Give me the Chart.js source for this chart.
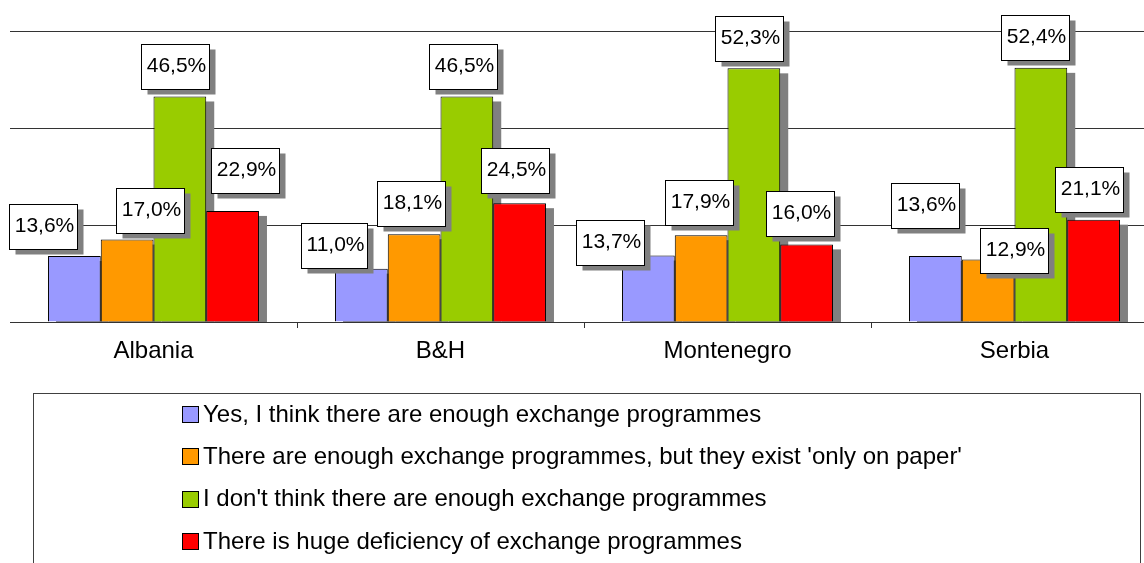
<!DOCTYPE html>
<html><head><meta charset="utf-8">
<script src="https://cdn.jsdelivr.net/npm/chart.js@4"></script>
<style>html,body{margin:0;padding:0;overflow:hidden;background:#fff;width:1144px;height:563px}canvas{display:block}</style>
</head><body>
<canvas id="c" width="1160" height="563"></canvas>
<script>
const categories = ['Albania', 'B&H', 'Montenegro', 'Serbia'];
const seriesNames = [
  'Yes, I think there are enough exchange programmes',
  "There are enough exchange programmes, but they exist 'only on paper'",
  "I don't think there are enough exchange programmes",
  'There is huge deficiency of exchange programmes'
];
const yesEnough = [13.6, 11.0, 13.7, 13.6];
const onlyOnPaper = [17.0, 18.1, 17.9, 12.9];
const notEnough = [46.5, 46.5, 52.3, 52.4];
const hugeDeficiency = [22.9, 24.5, 16.0, 21.1];
const yTicks = [0, 20, 40, 60];

const FONT = '"Liberation Sans", Arial, sans-serif';
const colors = ['#9999FF', '#FF9900', '#99CC00', '#FF0000'];

const barShadow = {
  id: 'barShadow',
  beforeDatasetsDraw(chart, args, opts) {
    const { ctx, chartArea: a } = chart;
    ctx.save();
    ctx.beginPath();
    ctx.rect(a.left, a.top, a.right - a.left, a.bottom - a.top);
    ctx.clip();
    ctx.fillStyle = opts.color;
    chart.data.datasets.forEach((ds, i) => {
      chart.getDatasetMeta(i).data.forEach(bar => {
        const p = bar.getProps(['x', 'y', 'base', 'width'], true);
        ctx.fillRect(p.x - p.width / 2 + opts.dx, p.y + opts.dy, p.width, p.base - p.y);
      });
    });
    ctx.restore();
  }
};

const boxLabels = {
  id: 'boxLabels',
  afterDatasetsDraw(chart, args, opts) {
    const { ctx } = chart;
    ctx.save();
    ctx.font = opts.size + 'px ' + FONT;
    ctx.textAlign = 'center';
    ctx.textBaseline = 'middle';
    chart.data.datasets.forEach((ds, i) => {
      chart.getDatasetMeta(i).data.forEach((bar, j) => {
        const p = bar.getProps(['x', 'y'], true);
        const txt = ds.data[j].toFixed(1).replace('.', ',') + '%';
        const tw = ctx.measureText(txt).width;
        const w = Math.round(tw + opts.padX * 2), h = opts.height;
        const n = opts.nudges[i][j];
        const cx = p.x + n[0], cy = p.y + n[1];
        const x0 = Math.round(cx - w / 2) + 0.5, y0 = Math.round(cy - h / 2) + 0.5;
        ctx.fillStyle = opts.shadow;
        ctx.fillRect(x0 + opts.sdx, y0 + opts.sdy, w, h);
        ctx.fillStyle = '#fff';
        ctx.fillRect(x0, y0, w, h);
        ctx.strokeStyle = '#000';
        ctx.lineWidth = 1;
        ctx.strokeRect(x0, y0, w, h);
        ctx.fillStyle = '#000';
        ctx.fillText(txt, x0 + w / 2 + 1, y0 + h / 2 - 1);
      });
    });
    ctx.restore();
  }
};

const boxLegend = {
  id: 'boxLegend',
  afterDraw(chart, args, opts) {
    const { ctx } = chart;
    ctx.save();
    ctx.strokeStyle = opts.frame;
    ctx.lineWidth = 1;
    ctx.strokeRect(opts.left + 0.5, opts.top + 0.5, opts.right - opts.left, 300);
    ctx.font = opts.size + 'px ' + FONT;
    ctx.textAlign = 'left';
    ctx.textBaseline = 'middle';
    chart.data.datasets.forEach((ds, i) => {
      const cy = opts.firstRow + i * opts.rowGap;
      const s = opts.box;
      ctx.fillStyle = ds.backgroundColor;
      ctx.fillRect(opts.itemX + 0.5, Math.round(cy - s / 2) + 0.5, s, s);
      ctx.strokeStyle = '#000';
      ctx.strokeRect(opts.itemX + 0.5, Math.round(cy - s / 2) + 0.5, s, s);
      ctx.fillStyle = '#000';
      ctx.fillText(ds.label, opts.itemX + s + 5, cy + 1);
    });
    ctx.restore();
  }
};

const seriesValues = [yesEnough, onlyOnPaper, notEnough, hugeDeficiency];

new Chart(document.getElementById('c'), {
  type: 'bar',
  data: {
    labels: categories,
    datasets: seriesValues.map((vals, i) => ({
      label: seriesNames[i],
      data: vals,
      backgroundColor: colors[i],
      borderColor: '#000',
      borderWidth: 1,
      barPercentage: 1,
      categoryPercentage: 0.735
    }))
  },
  options: {
    responsive: false,
    animation: false,
    devicePixelRatio: 1,
    layout: { padding: { left: 10, top: 31, right: 2, bottom: 0 } },
    scales: {
      x: {
        afterFit(scale) { scale.height = 241; },
        grid: {
          drawOnChartArea: false,
          drawTicks: true,
          tickLength: 6,
          color: ctx => ctx.index === 0 ? 'rgba(0,0,0,0)' : '#333'
        },
        border: { display: true, color: '#333' },
        ticks: { color: '#000', padding: 9, font: { family: FONT, size: 24 } }
      },
      y: {
        min: 0, max: 60,
        afterBuildTicks(scale) { scale.ticks = yTicks.map(v => ({ value: v })); },
        afterFit(scale) { scale.width = 0; },
        ticks: { display: false },
        grid: { drawTicks: false, color: '#333', lineWidth: 1 },
        border: { display: false }
      }
    },
    plugins: {
      legend: { display: false },
      tooltip: { enabled: false },
      barShadow: { color: '#808080', dx: 8, dy: 5 },
      boxLabels: {
        size: 21, padX: 4, height: 45, shadow: '#808080', sdx: 6, sdy: 5,
        nudges: [
          [[-31.5, -29.5], [-27, -23], [-38, -13], [-10, -50.5]],
          [[22.5, -29], [-3.5, -31], [-2.5, -32.7], [25.5, -9]],
          [[-4.5, -29.5], [-3.5, -29.5], [-4.5, -30.3], [-6, -30]],
          [[12.5, -40.5], [-5, -32.7], [-6.5, -31], [-5, -30]]
        ]
      },
      boxLegend: {
        frame: '#404040', left: 33, top: 393, right: 1140,
        itemX: 182, box: 16, size: 24, firstRow: 414, rowGap: 42.3
      }
    }
  },
  plugins: [barShadow, boxLabels, boxLegend]
});
</script>
</body></html>
